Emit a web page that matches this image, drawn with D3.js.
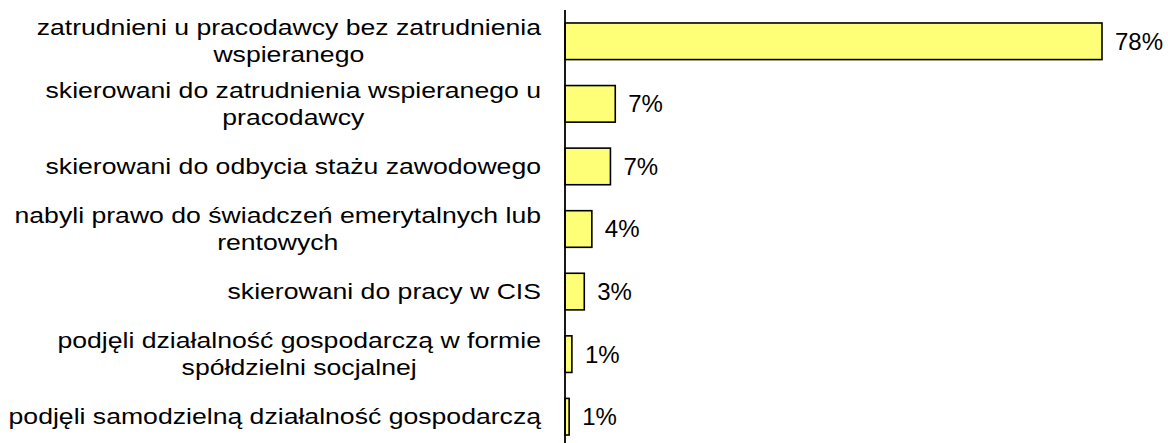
<!DOCTYPE html>
<html>
<head>
<meta charset="utf-8">
<script src="https://cdn.jsdelivr.net/npm/d3@7"></script>
<style>
  body { margin: 0; background: #fff; }
  svg text { font-family: "Liberation Sans", Arial, sans-serif; fill: #000; }
</style>
</head>
<body>
<svg id="chart"></svg>
<script>
var categories = [
  'zatrudnieni u pracodawcy bez zatrudnienia\nwspieranego',
  'skierowani do zatrudnienia wspieranego u\npracodawcy',
  'skierowani do odbycia stażu zawodowego',
  'nabyli prawo do świadczeń emerytalnych lub\nrentowych',
  'skierowani do pracy w CIS',
  'podjęli działalność gospodarczą w formie\nspółdzielni socjalnej',
  'podjęli samodzielną działalność gospodarczą'
];
var values = [78, 7.3, 6.6, 3.9, 2.8, 1.0, 0.6];
var valueLabels = ['78%', '7%', '7%', '4%', '3%', '1%', '1%'];

var width = 1168;
var height = 443;
var axisX = 565;

var svg = d3.select('#chart')
  .attr('width', width)
  .attr('height', height);

var y = d3.scaleBand()
  .domain(categories)
  .range([10, 448])
  .paddingInner(0.415)
  .paddingOuter(0.2075);

var x = d3.scaleLinear()
  .domain([0, 78])
  .range([axisX, 1102]);

// bars
svg.selectAll('.bar')
  .data(values)
  .enter()
  .append('rect')
  .classed('bar', true)
  .attr('x', x(0))
  .attr('y', (d, i) => y(categories[i]))
  .attr('width', d => x(d) - x(0))
  .attr('height', y.bandwidth())
  .attr('fill', '#ffff77')
  .attr('stroke', '#000')
  .attr('stroke-width', 1.6);

// axis line
svg.append('line')
  .attr('x1', axisX).attr('x2', axisX)
  .attr('y1', 10).attr('y2', height)
  .attr('stroke', '#000')
  .attr('stroke-width', 1.8);

// value labels
svg.selectAll('.val')
  .data(valueLabels)
  .enter()
  .append('text')
  .classed('val', true)
  .attr('x', (d, i) => x(values[i]) + 13)
  .attr('y', (d, i) => y(categories[i]) + y.bandwidth() / 2)
  .attr('dy', '0.35em')
  .style('font-size', '24px')
  .text(d => d);

// category labels: block right-aligned, lines centred inside it,
// stretched a bit wider like the original picture
var labelX = 541;
var stretch = 1.21;
var lineH = 27;
var labels = svg.append('g')
  .attr('transform', 'translate(' + labelX + ',0) scale(' + stretch + ',1)');

labels.selectAll('.cat')
  .data(categories)
  .enter()
  .append('text')
  .classed('cat', true)
  .attr('text-anchor', 'middle')
  .style('font-size', '22px')
  .each(function(d) {
    var lines = d.split('\n');
    var cy = y(d) + y.bandwidth() / 2;
    var top = cy - (lines.length - 1) * lineH / 2;
    var t = d3.select(this);
    var spans = lines.map(function(line, k) {
      return t.append('tspan')
        .attr('y', top + k * lineH)
        .attr('dy', '0.35em')
        .text(line);
    });
    var maxW = d3.max(spans, s => s.node().getComputedTextLength());
    spans.forEach(s => s.attr('x', -maxW / 2));
  });
</script>
</body>
</html>
